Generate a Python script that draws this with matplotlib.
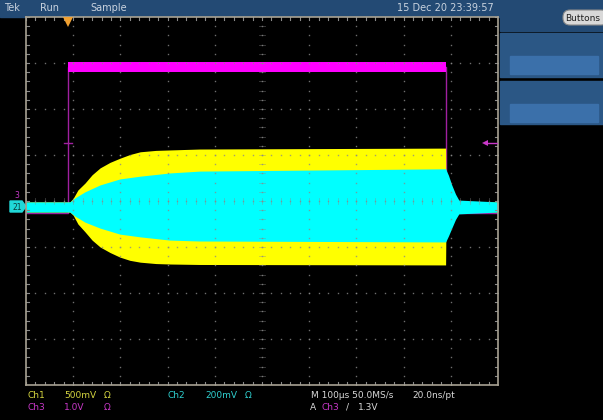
import numpy as np
import matplotlib
matplotlib.use("Agg")
import matplotlib.pyplot as plt
from matplotlib.patches import Rectangle, FancyBboxPatch, Polygon

# time in microseconds (100 us/div, 10 divisions), amplitude in divisions
ch3_time = [0, 89, 89, 889, 889, 1000]
ch3_level = [-0.27, -0.27, 2.91, 2.91, -0.27, -0.27]
ch3_noise = 0.11
ch3_trig_level = 1.26

ch1_time = [0, 93, 100, 110, 125, 140, 157, 178, 199, 220, 242, 275, 305, 368, 889, 890, 1000]
ch1_top = [-0.02, -0.02, 0.06, 0.24, 0.39, 0.57, 0.72, 0.84, 0.93, 1.01, 1.07, 1.10, 1.11, 1.13, 1.15, -0.02, -0.02]
ch1_bottom = [-0.24, -0.24, -0.31, -0.50, -0.67, -0.85, -1.00, -1.12, -1.22, -1.29, -1.33, -1.36, -1.37, -1.38, -1.39, -0.24, -0.24]

ch2_time = [0, 93, 104, 125, 157, 199, 242, 305, 368, 889, 895, 902, 910, 917, 1000]
ch2_top = [-0.02, -0.02, 0.07, 0.20, 0.35, 0.48, 0.54, 0.61, 0.65, 0.70, 0.56, 0.35, 0.15, 0.02, -0.02]
ch2_bottom = [-0.24, -0.24, -0.33, -0.46, -0.59, -0.72, -0.78, -0.85, -0.87, -0.89, -0.76, -0.59, -0.40, -0.28, -0.24]

W, H = 603, 420
fig = plt.figure(figsize=(W / 100, H / 100), dpi=100)
fig.patch.set_facecolor("black")

# screen furniture in pixel coordinates
bg = fig.add_axes([0, 0, 1, 1])
bg.set_xlim(0, W)
bg.set_ylim(H, 0)
bg.axis("off")
bg.set_facecolor("black")

bar = "#234a74"
bg.add_patch(Rectangle((0, 0), W, 16.5, color=bar))
bg.add_patch(Rectangle((500, 0), W - 500, 31, color=bar))
bg.add_patch(Rectangle((500, 33), W - 500, 44, color="#2b5785"))
bg.add_patch(Rectangle((510, 56), 88, 18, color="#3b70aa"))
bg.add_patch(Rectangle((500, 81), W - 500, 43, color="#2b5785"))
bg.add_patch(Rectangle((510, 104), 88, 18, color="#3b70aa"))
bg.add_patch(FancyBboxPatch((563, 10), 45, 15, boxstyle="round,pad=0,rounding_size=7",
                            fc="#d9d9d9", ec="#8a8a8a", lw=0.8))
bg.text(583, 18.5, "Buttons", color="#202020", fontsize=6.5, ha="center", va="center")

head = "#c9d3df"
bg.text(4, 8, "Tek", color=head, fontsize=7, va="center")
bg.text(40, 8, "Run", color=head, fontsize=7, va="center")
bg.text(90, 8, "Sample", color=head, fontsize=7, va="center")
bg.text(494, 8, "15 Dec 20 23:39:57", color=head, fontsize=7, va="center", ha="right")

yel, cyn, mag, wht = "#d6d640", "#2fcfcf", "#c838c8", "#d8d8d8"
r1, r2 = 395, 407
for x, s, c in [(27, "Ch1", yel), (64, "500mV", yel), (104, "Ω", yel),
                (167, "Ch2", cyn), (205, "200mV", cyn), (245, "Ω", cyn),
                (311, "M 100µs 50.0MS/s", wht), (412, "20.0ns/pt", wht)]:
    bg.text(x, r1, s, color=c, fontsize=6.5, va="center")
for x, s, c in [(27, "Ch3", mag), (64, "1.0V", mag), (104, "Ω", mag),
                (310, "A", wht), (321, "Ch3", mag), (346, "/", wht), (358, "1.3V", wht)]:
    bg.text(x, r2, s, color=c, fontsize=6.5, va="center")

# channel ground markers on the left
bg.add_patch(Polygon([[10, 201], [22, 201], [26, 206.5], [22, 212], [10, 212]], color="#20d8d8"))
bg.text(17, 207, "21", color="#0a3a3a", fontsize=5.5, va="center", ha="center")
bg.text(17, 195, "3", color=mag, fontsize=5.5, va="center", ha="center")

# scope graticule
ax = fig.add_axes([26 / W, 1 - 385 / H, 472 / W, 368 / H])
ax.set_facecolor("black")
ax.set_xlim(0, 1000)
ax.set_ylim(-4, 4)
ax.set_xticks([])
ax.set_yticks([])
for sp in ax.spines.values():
    sp.set_color("#a8a293")
    sp.set_linewidth(1.2)
    sp.set_zorder(10)

# Ch3 (magenta): gate signal
ax.plot(ch3_time, ch3_level, color="#a020a0", lw=1, zorder=2)
ax.fill_between(ch3_time[2:4], ch3_level[2] - ch3_noise, ch3_level[3] + ch3_noise,
                color="#ff00ff", lw=0, zorder=3)
ax.plot([80, 98], [ch3_trig_level] * 2, color="#a020a0", lw=1, zorder=3)

# Ch1 (yellow) and Ch2 (cyan) envelopes
ax.fill_between(ch1_time, ch1_bottom, ch1_top, color="#ffff00", lw=0, zorder=4)
ax.fill_between(ch2_time, ch2_bottom, ch2_top, color="#00ffff", lw=0, zorder=5)

# dotted grid
minor_y = np.arange(-4, 4.01, 0.2)
minor_x = np.arange(0, 1000.1, 20)
for i in range(1, 10):
    ax.plot(np.full_like(minor_y, i * 100), minor_y, ls="none", marker="s", ms=1,
            mew=0, color="#8a8a8a", alpha=0.8, zorder=6)
for j in range(-3, 4):
    ax.plot(minor_x, np.full_like(minor_x, j), ls="none", marker="s", ms=1,
            mew=0, color="#8a8a8a", alpha=0.8, zorder=6)

# center cross and edge ticks
tick_c = "#8a8a8a"
for x in minor_x:
    ax.plot([x, x], [-0.06, 0.06], color=tick_c, lw=0.6, alpha=0.45, zorder=6)
    ax.plot([x, x], [-4, -3.93], color=tick_c, lw=0.8, zorder=6)
    ax.plot([x, x], [4, 3.93], color=tick_c, lw=0.8, zorder=6)
for y in minor_y:
    ax.plot([494, 506], [y, y], color=tick_c, lw=0.6, alpha=0.45, zorder=6)
    ax.plot([0, 7], [y, y], color=tick_c, lw=0.8, zorder=6)
    ax.plot([993, 1000], [y, y], color=tick_c, lw=0.8, zorder=6)

# trigger position and trigger level markers
ax.plot([89], [3.9], marker="v", ms=7, color="#f0a030", mew=0, zorder=11, clip_on=False)
ax.plot([972, 998], [ch3_trig_level] * 2, color="#c838c8", lw=1, zorder=11)
ax.plot([972], [ch3_trig_level], marker="<", ms=5, color="#c838c8", mew=0, zorder=11)

fig.savefig("out.png", dpi=100, facecolor="black")
